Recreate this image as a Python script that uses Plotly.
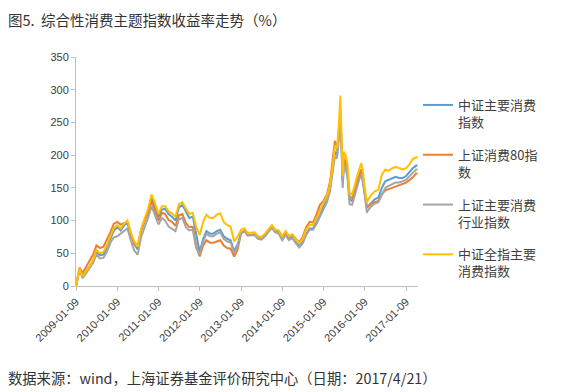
import plotly.graph_objects as go

dates = (
    [f"2009-{m:02d}-09" for m in range(1, 13)]
    + [f"2010-{m:02d}-09" for m in range(1, 13)]
    + [f"2011-{m:02d}-09" for m in range(1, 13)]
    + [f"2012-{m:02d}-09" for m in range(1, 13)]
    + [f"2013-{m:02d}-09" for m in range(1, 13)]
    + [f"2014-{m:02d}-09" for m in range(1, 13)]
    + ["2015-01-09", "2015-02-09", "2015-03-09", "2015-04-09", "2015-04-20", "2015-05-09",
       "2015-05-25", "2015-06-08", "2015-06-18", "2015-06-28", "2015-07-10", "2015-07-25",
       "2015-08-10", "2015-08-28", "2015-09-20", "2015-10-15", "2015-11-10", "2015-12-10",
       "2015-12-28"]
    + ["2016-01-09", "2016-01-28"] + [f"2016-{m:02d}-09" for m in range(2, 13)]
    + ["2017-01-09", "2017-02-09", "2017-03-09", "2017-04-09", "2017-04-21"]
)

# 中证主要消费指数
csi_consumer = [
    0, 25, 14, 22, 28, 38, 52, 47, 48, 58, 72, 84,
    90, 85, 92, 97, 78, 64, 56, 85, 100, 114, 136, 122,
    106, 117, 118, 110, 106, 100, 120, 124, 113, 104, 106, 80,
    52, 72, 84, 80, 80, 84, 86, 76, 72, 70, 53, 63,
    81, 85, 78, 78, 79, 73, 72, 77, 83, 90, 83, 81,
    72, 80, 72, 75, 67, 61, 67, 80, 88, 88, 98, 108,
    122, 132, 150, 188, 205, 200, 232, 258, 218, 158, 192, 188, 172, 132, 130, 148, 162, 178, 162,
    142, 120, 122, 128, 133, 135, 150, 160, 162, 165, 167, 165, 165,
    168, 174, 180, 184, 184,
]
# 上证消费80指数
sse_consumer80 = [
    0, 28, 20, 30, 38, 48, 62, 58, 60, 70, 82, 95,
    98, 94, 96, 98, 80, 64, 62, 86, 100, 112, 130, 116,
    100, 112, 110, 101, 98, 92, 108, 110, 96, 90, 90, 62,
    45, 62, 70, 66, 66, 68, 70, 62, 58, 57, 45, 55,
    80, 84, 78, 78, 79, 73, 72, 77, 84, 90, 84, 82,
    75, 83, 76, 78, 72, 67, 75, 90, 98, 97, 110, 124,
    130, 140, 160, 200, 222, 208, 240, 262, 220, 162, 195, 190, 175, 135, 135, 152, 165, 178, 160,
    142, 120, 122, 126, 128, 130, 140, 146, 148, 150, 152, 154, 156,
    158, 162, 166, 172, 172,
]
# 上证主要消费行业指数
sse_consumer_ind = [
    0, 24, 12, 20, 26, 35, 48, 42, 43, 52, 66, 74,
    76, 80, 84, 88, 70, 54, 48, 75, 90, 104, 122, 108,
    94, 104, 100, 91, 88, 84, 102, 104, 90, 85, 86, 58,
    48, 68, 80, 76, 76, 80, 82, 72, 68, 67, 50, 60,
    80, 84, 77, 77, 78, 72, 71, 76, 82, 89, 82, 80,
    70, 78, 70, 73, 65, 59, 65, 78, 86, 86, 95, 106,
    118, 128, 146, 182, 198, 195, 225, 250, 210, 150, 185, 180, 165, 125, 124, 142, 156, 172, 156,
    140, 112, 116, 122, 126, 128, 140, 150, 153, 156, 158, 158, 160,
    162, 168, 173, 178, 178,
]
# 中证全指主要消费指数
csi_all_consumer = [
    0, 26, 15, 24, 30, 40, 55, 50, 52, 62, 76, 88,
    93, 88, 95, 100, 82, 68, 60, 88, 103, 118, 140, 127,
    110, 122, 122, 114, 111, 106, 125, 128, 118, 110, 112, 90,
    78, 98, 109, 104, 104, 109, 111, 98, 93, 91, 68, 75,
    86, 88, 81, 81, 82, 76, 75, 80, 86, 93, 86, 85,
    76, 84, 76, 79, 71, 66, 72, 86, 94, 93, 104, 116,
    127, 137, 155, 195, 215, 210, 245, 291, 230, 168, 205, 200, 185, 142, 140, 158, 172, 188, 170,
    150, 128, 132, 140, 145, 147, 170, 178, 176, 180, 182, 180, 178,
    180, 186, 194, 197, 196,
]

series_names = ["中证主要消费<br>指数", "上证消费80指<br>数", "上证主要消费<br>行业指数", "中证全指主要<br>消费指数"]
series_values = [csi_consumer, sse_consumer80, sse_consumer_ind, csi_all_consumer]
colors = ["#5B9BD5", "#ED7D31", "#A5A5A5", "#FFC000"]

tick_dates = ["2009-01-09", "2010-01-09", "2011-01-09", "2012-01-09", "2013-01-09",
              "2014-01-09", "2015-01-09", "2016-01-09", "2017-01-09"]
y_ticks = [0, 50, 100, 150, 200, 250, 300, 350]

fig = go.Figure()
for i, (name, vals, c) in enumerate(zip(series_names, series_values, colors)):
    fig.add_trace(go.Scatter(x=dates, y=vals, name=name, mode="lines",
                             line=dict(color=c, width=2), legendgroup=f"g{i}"))

cjk = "Noto Sans CJK SC"
PW, PH = 342, 229
# page body has an 8px margin, so the figure origin sits at (8, 8) on screen
fig.update_layout(
    width=570, height=384,
    margin=dict(l=68, r=160, t=49, b=106, autoexpand=False),
    paper_bgcolor="white", plot_bgcolor="white",
    font=dict(family="Liberation Sans, Arial", size=11, color="#404040"),
    showlegend=True,
    legend=dict(x=1.0, y=(286 - 90) / PH, xanchor="left", yanchor="top",
                valign="top",
                font=dict(family=cjk, size=13, color="#404040"),
                tracegroupgap=13, bgcolor="rgba(0,0,0,0)"),
    xaxis=dict(type="date", range=["2009-01-09", "2017-04-25"], automargin=False,
               tickvals=tick_dates, ticktext=tick_dates, tickangle=-45,
               showline=True, linecolor="#BFBFBF", linewidth=1,
               ticks="outside", ticklen=4, tickcolor="#BFBFBF",
               showgrid=False, zeroline=False,
               tickfont=dict(family="Liberation Sans, Arial", size=11, color="#404040")),
    yaxis=dict(range=[0, 350], tickvals=y_ticks, automargin=False,
               showline=True, linecolor="#BFBFBF", linewidth=1,
               ticks="outside", ticklen=4, tickcolor="#BFBFBF",
               showgrid=False, zeroline=False,
               tickfont=dict(family="Liberation Sans, Arial", size=11, color="#404040")),
    annotations=[
        dict(text="图5.  综合性消费主题指数收益率走势（%）", xref="paper", yref="paper",
             x=-70 / PW, y=1 + 38 / PH, xanchor="left", yanchor="middle", showarrow=False,
             font=dict(family=cjk, size=14.5, color="#333333")),
        dict(text="数据来源：wind，上海证券基金评价研究中心（日期：2017/4/21）", xref="paper", yref="paper",
             x=-70 / PW, y=-91 / PH, xanchor="left", yanchor="middle", showarrow=False,
             font=dict(family=cjk, size=14.3, color="#333333")),
    ],
)

fig.write_html("out.html")
